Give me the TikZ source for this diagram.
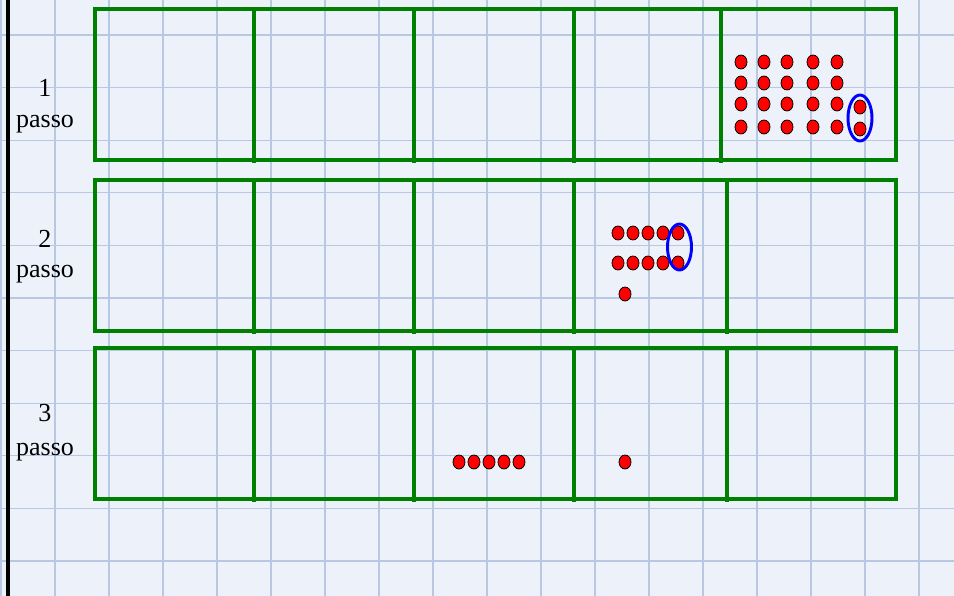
\documentclass[tikz,border=0pt]{standalone}
\usepackage{fontspec}
\setmainfont{Liberation Serif}
\definecolor{verde}{RGB}{0,128,0}
\definecolor{carta}{RGB}{236,241,250}
\definecolor{quadretti}{RGB}{184,199,226}
\begin{document}
\begin{tikzpicture}[x=0.75pt, y=-0.75pt, line join=miter,
  pallino/.style={fill=red, draw=black, line width=0.6pt},
  giro/.style={draw=blue, line width=2.2pt},
  scatola/.style={draw=verde, line width=3pt},
  scritta/.style={font=\fontsize{19.5}{22}\selectfont, anchor=base, inner sep=0pt}]
  \useasboundingbox (0,0) rectangle (954,596);
  % il foglio a quadretti
  \fill[carta] (0,0) rectangle (954,596);
  \foreach \x in {1,55,...,919} { \draw[quadretti, line width=1pt] (\x,0) -- (\x,596); }
  \foreach \k in {0,...,10} { \draw[quadretti, line width=1pt] (0,{35+52.6*\k}) -- (954,{35+52.6*\k}); }
  \draw[line width=3pt] (8,0) -- (8,596);
  % le tre file di scatole
  \foreach \t/\b/\u in {9/160/721, 180/331/727, 348/499/727} {
    \draw[scatola] (95,\t) rectangle (896,\b);
    \foreach \x in {254,414,574,\u} { \draw[scatola] (\x,\t) -- (\x,\b+3); }
  }
  % le scritte a sinistra
  \node[scritta] (n1) at (45,96) {1};
  \node[scritta] (p1) at (45,127) {passo};
  \node[scritta] (n2) at (45,247) {2};
  \node[scritta] (p2) at (45,277) {passo};
  \node[scritta] (n3) at (45,421) {3};
  \node[scritta] (p3) at (45,455) {passo};
  % 1 passo: 22 pallini, due cerchiati
  \foreach \x in {741,764,787,813,837} {
    \foreach \y in {62,83,104,127} { \draw[pallino] (\x,\y) ellipse (6 and 7); }
  }
  \draw[pallino] (860,107) ellipse (6 and 7);
  \draw[pallino] (860,129) ellipse (6 and 7);
  \draw[giro] (860,118) ellipse (12 and 23);
  % 2 passo: 11 pallini, due cerchiati
  \foreach \x in {618,633,648,663,678} {
    \foreach \y in {233,263} { \draw[pallino] (\x,\y) ellipse (6 and 7); }
  }
  \draw[pallino] (625,294) ellipse (6 and 7);
  \draw[giro] (679.5,247) ellipse (12 and 23);
  % 3 passo
  \foreach \x in {459,474,489,504,519} { \draw[pallino] (\x,462) ellipse (6 and 7); }
  \draw[pallino] (625,462) ellipse (6 and 7);
\end{tikzpicture}
\end{document}
